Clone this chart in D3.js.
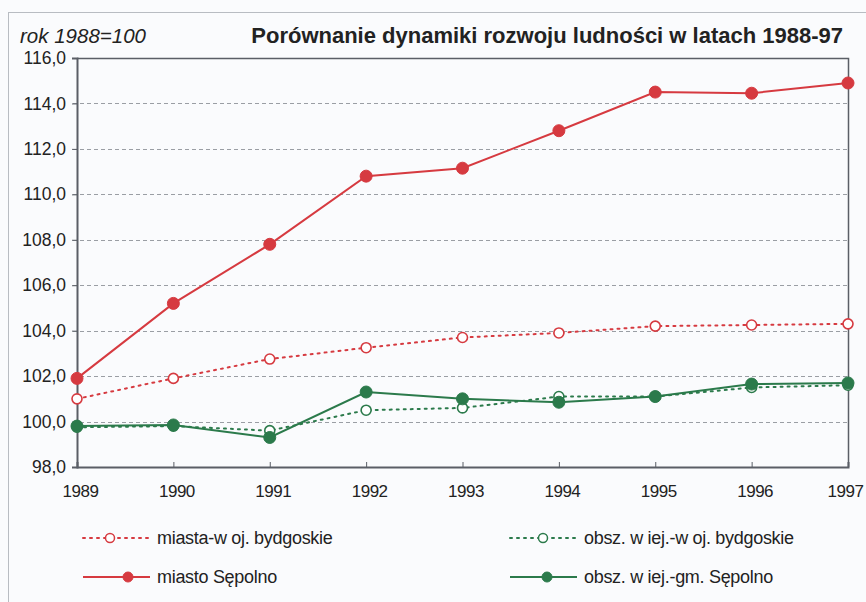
<!DOCTYPE html>
<html>
<head>
<meta charset="utf-8">
<script src="https://cdn.jsdelivr.net/npm/d3@7"></script>
<style>
  html, body { margin: 0; padding: 0; background: #fafbfd; }
  svg { display: block; }
</style>
</head>
<body>
<div id="chart"></div>
<script>
// years on the x axis
const years = [1989, 1990, 1991, 1992, 1993, 1994, 1995, 1996, 1997];
const yTicks = [98, 100, 102, 104, 106, 108, 110, 112, 114, 116];

// series values (rok 1988 = 100)
const miastaWoj   = [101.0, 101.9, 102.75, 103.25, 103.7, 103.9, 104.2, 104.25, 104.3];
const miastoSep   = [101.9, 105.2, 107.8, 110.8, 111.15, 112.8, 114.5, 114.45, 114.9];
const obszWiejWoj = [99.75, 99.8, 99.6, 100.5, 100.6, 101.1, 101.1, 101.5, 101.6];
const obszWiejSep = [99.8, 99.85, 99.3, 101.3, 101.0, 100.85, 101.1, 101.65, 101.7];

const red = "#d63a40";
const green = "#2b7a4b";

const series = [
  {name: "miasta-w oj. bydgoskie", values: miastaWoj, color: red, dotted: true},
  {name: "obsz. w iej.-w oj. bydgoskie", values: obszWiejWoj, color: green, dotted: true},
  {name: "miasto Sępolno", values: miastoSep, color: red, dotted: false},
  {name: "obsz. w iej.-gm. Sępolno", values: obszWiejSep, color: green, dotted: false}
];

const W = 866, H = 602;
const plot = {left: 77, right: 848, top: 58, bottom: 467};

const svg = d3.select("#chart").append("svg")
    .attr("width", W)
    .attr("height", H)
    .style("font-family", "'Liberation Sans', Arial, sans-serif");

// outer frame
svg.append("rect")
    .attr("x", 8.5).attr("y", 12.5)
    .attr("width", 900).attr("height", 700)
    .attr("fill", "#fafbfd")
    .attr("stroke", "#b8bcc2");

const x = d3.scaleLinear().domain([1989, 1997]).range([plot.left, plot.right]);
const y = d3.scaleLinear().domain([98, 116]).range([plot.bottom, plot.top]);

// dashed gridlines
svg.append("g").selectAll("line")
    .data(yTicks.filter(d => d > 98 && d < 116))
    .join("line")
    .attr("x1", plot.left - 4).attr("x2", plot.right)
    .attr("y1", d => Math.round(y(d)) + 0.5).attr("y2", d => Math.round(y(d)) + 0.5)
    .attr("stroke", "#9a9ea4")
    .attr("stroke-width", 1)
    .attr("stroke-dasharray", "4,3");

// top and right border of plot
svg.append("path")
    .attr("d", `M${plot.left},${plot.top + 0.5}H${plot.right + 0.5}V${plot.bottom}`)
    .attr("fill", "none")
    .attr("stroke", "#5a5e66")
    .attr("stroke-width", 1.5);

// y axis
const fmt = d3.format(".1f");
const yAxis = svg.append("g")
    .attr("transform", `translate(${plot.left},0)`)
    .call(d3.axisLeft(y).tickValues(yTicks).tickSize(5).tickPadding(6)
        .tickFormat(d => fmt(d).replace(".", ",")));
yAxis.select(".domain").attr("stroke", "#5a5e66").attr("stroke-width", 2);
yAxis.selectAll(".tick line").attr("stroke", "#5a5e66");
yAxis.selectAll("text")
    .attr("fill", "#222")
    .style("font-size", "17.5px");

// x axis
const xAxis = svg.append("g")
    .attr("transform", `translate(0,${plot.bottom})`)
    .call(d3.axisBottom(x).tickValues(years).tickSize(-5).tickPadding(18)
        .tickFormat(d3.format("d")));
xAxis.select(".domain").attr("stroke", "#5a5e66").attr("stroke-width", 2);
xAxis.selectAll(".tick line").attr("stroke", "#5a5e66");
xAxis.selectAll("text")
    .attr("fill", "#222")
    // last label is pulled in so it stays inside the page
    .attr("dx", d => d === years[years.length - 1] ? -3 : 3)
    .style("font-size", "17px")
    .style("letter-spacing", "-0.5px");

// lines
const line = d3.line()
    .x((d, i) => x(years[i]))
    .y(d => y(d));

series.forEach(s => {
    svg.append("path")
        .datum(s.values)
        .attr("d", line)
        .attr("fill", "none")
        .attr("stroke", s.color)
        .attr("stroke-width", 2)
        .attr("stroke-dasharray", s.dotted ? "2,5" : null)
        .attr("stroke-linecap", s.dotted ? "round" : "butt");
});

series.forEach(s => {
    svg.append("g").selectAll("circle")
        .data(s.values)
        .join("circle")
        .attr("cx", (d, i) => x(years[i]))
        .attr("cy", d => y(d))
        .attr("r", s.dotted ? 5 : 6)
        .attr("fill", s.dotted ? "#fff" : s.color)
        .attr("stroke", s.color)
        .attr("stroke-width", s.dotted ? 1.6 : 1);
});

// titles
svg.append("text")
    .attr("x", 20).attr("y", 43)
    .attr("fill", "#222")
    .style("font-size", "20.5px")
    .style("font-style", "italic")
    .text("rok 1988=100");

svg.append("text")
    .attr("x", 843).attr("y", 43)
    .attr("text-anchor", "end")
    .attr("fill", "#222")
    .style("font-size", "22px")
    .style("font-weight", "bold")
    .text("Porównanie dynamiki rozwoju ludności w latach 1988-97");

// legend
const legendPos = [
    {s: series[0], x: 83, y: 538, mark: 27},
    {s: series[1], x: 510, y: 538, mark: 33},
    {s: series[2], x: 83, y: 577, mark: 45},
    {s: series[3], x: 510, y: 577, mark: 37}
];

const legend = svg.append("g");
legendPos.forEach(p => {
    const g = legend.append("g").attr("transform", `translate(${p.x},${p.y})`);
    g.append("line")
        .attr("x1", 0).attr("x2", 67)
        .attr("stroke", p.s.color)
        .attr("stroke-width", 2)
        .attr("stroke-dasharray", p.s.dotted ? "2,5" : null)
        .attr("stroke-linecap", p.s.dotted ? "round" : "butt");
    g.append("circle")
        .attr("cx", p.mark).attr("cy", 0)
        .attr("r", p.s.dotted ? 4.5 : 5)
        .attr("fill", p.s.dotted ? "#fff" : p.s.color)
        .attr("stroke", p.s.color)
        .attr("stroke-width", p.s.dotted ? 1.5 : 1);
    g.append("text")
        .attr("x", 74).attr("y", 6)
        .attr("fill", "#222")
        .style("font-size", "18px")
        .style("letter-spacing", "-0.3px")
        .text(p.s.name);
});
</script>
</body>
</html>
